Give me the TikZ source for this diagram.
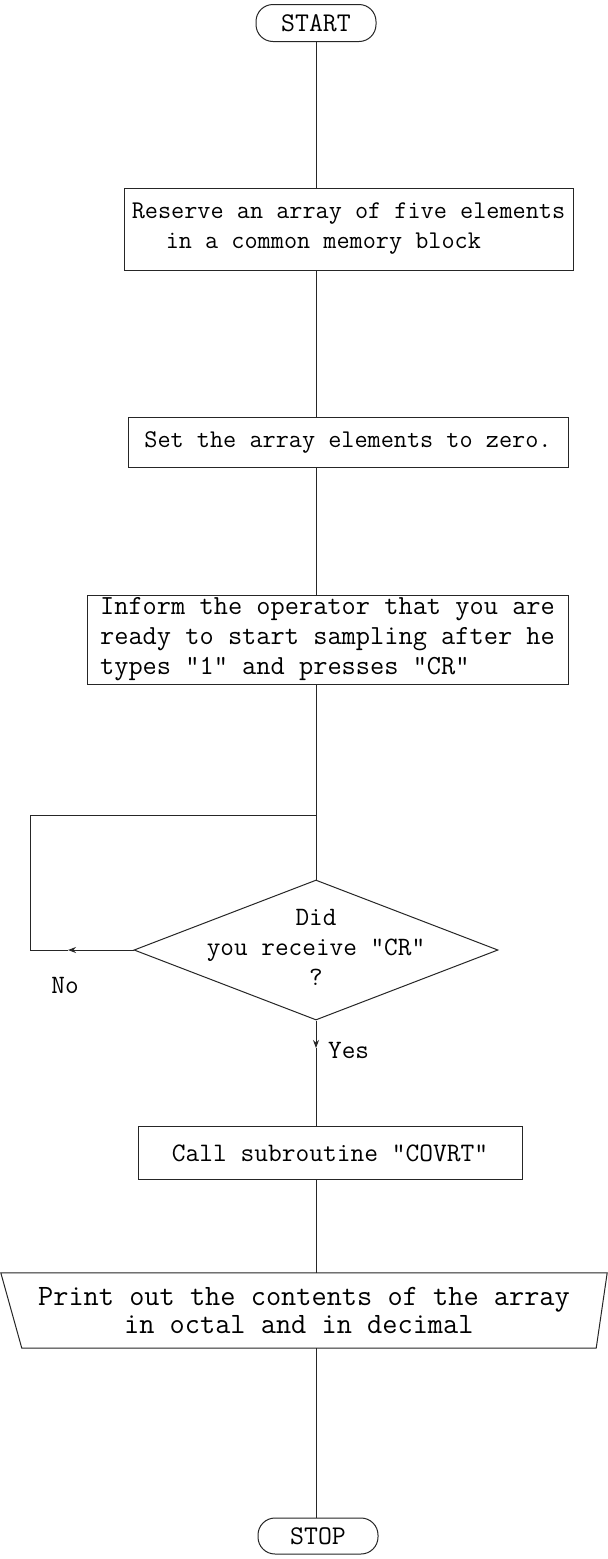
\documentclass[tikz,border=0pt]{standalone}
\usepackage{fontspec}
\newcommand\twf{\ttfamily}
\usetikzlibrary{shapes.geometric,arrows.meta,calc}
\begin{document}
\begin{tikzpicture}[x=1pt,y=-1pt,
  ln/.style={draw=black!85, line width=1pt},
  term/.style={ln, rounded corners=17pt, minimum width=120pt, minimum height=37pt, inner sep=0pt, font=\twf\fontsize{27}{30}\selectfont},
  procbox/.style={ln, inner sep=0pt, font=\twf\fontsize{25.5}{30}\selectfont},
  lbl/.style={font=\twf\fontsize{26.5}{30}\selectfont, inner sep=0pt},
  arr/.style={ln, -{Stealth[length=8pt,width=6pt]}}
]
\useasboundingbox (0,0) rectangle (608,1559);
\fill[white] (0,0) rectangle (608,1559);

\node[term] (start) at (316,23) {START};
\node[procbox, minimum width=449pt, minimum height=82pt, align=left] (b1) at (348.5,229)
  {Reserve an array of five elements\\\hspace*{34pt}in a common memory block\hspace*{34pt}};
\node[procbox, minimum width=440pt, minimum height=50pt] (b2) at (348,442)
  {Set the array elements to zero.};
\node[procbox, font=\twf\fontsize{27.6}{30}\selectfont, minimum width=481pt, minimum height=89pt, align=left] (b3) at (327.5,639.5)
  {Inform the operator that you are\\ready to start sampling after he\\types "1" and presses "CR"};
\node[diamond, ln, minimum width=364pt, minimum height=140pt, inner sep=0pt] (d) at (316,950) {};
\node[lbl, align=center] (dt) at (316,947) {Did\\you receive "CR"\\?};
\node[procbox, font=\twf\fontsize{26.7}{30}\selectfont, minimum width=384pt, minimum height=53pt] (call) at (330,1153)
  {Call subroutine "COVRT"};
\node[lbl, font=\twf\fontsize{29.5}{28}\selectfont, align=left, minimum width=604pt, minimum height=75pt] (pr) at (304,1310.5)
  {Print out the contents of the array\\\hspace*{86pt}in octal and in decimal\hspace*{86pt}};
\draw[ln] ($(pr.north west)+(-1,0)$) -- ($(pr.north east)+(1,0)$)
  -- ($(pr.south east)+(-10,0)$) -- ($(pr.south west)+(20,0)$) -- cycle;
\node[term, minimum height=36pt] (stop) at (318,1536) {STOP};

\node[lbl] (no) at (65,985) {No};
\node[lbl, anchor=west] (yes) at (328,1050) {Yes};

\coordinate (j) at (316,815);
\coordinate (lt) at (30,815);
\coordinate (lb) at (30,950);
\coordinate (noA) at (68,950);
\coordinate (yesA) at (316,1048);

\draw[ln] (start.south) -- (start.south |- b1.north);
\draw[ln] (start.south |- b1.south) -- (start.south |- b2.north);
\draw[ln] (start.south |- b2.south) -- (start.south |- b3.north);
\draw[ln] (start.south |- b3.south) -- (d.north);
\draw[arr] (d.west) -- (noA);
\draw[ln] (noA) -- (lb) -- (lt) -- (j);
\draw[arr] (d.south) -- (yesA);
\draw[ln] (yesA) -- (call.north -| yesA);
\draw[ln] (call.south -| yesA) -- (pr.north -| yesA);
\draw[ln] (pr.south -| yesA) -- (stop.north -| yesA);
\end{tikzpicture}
\end{document}
